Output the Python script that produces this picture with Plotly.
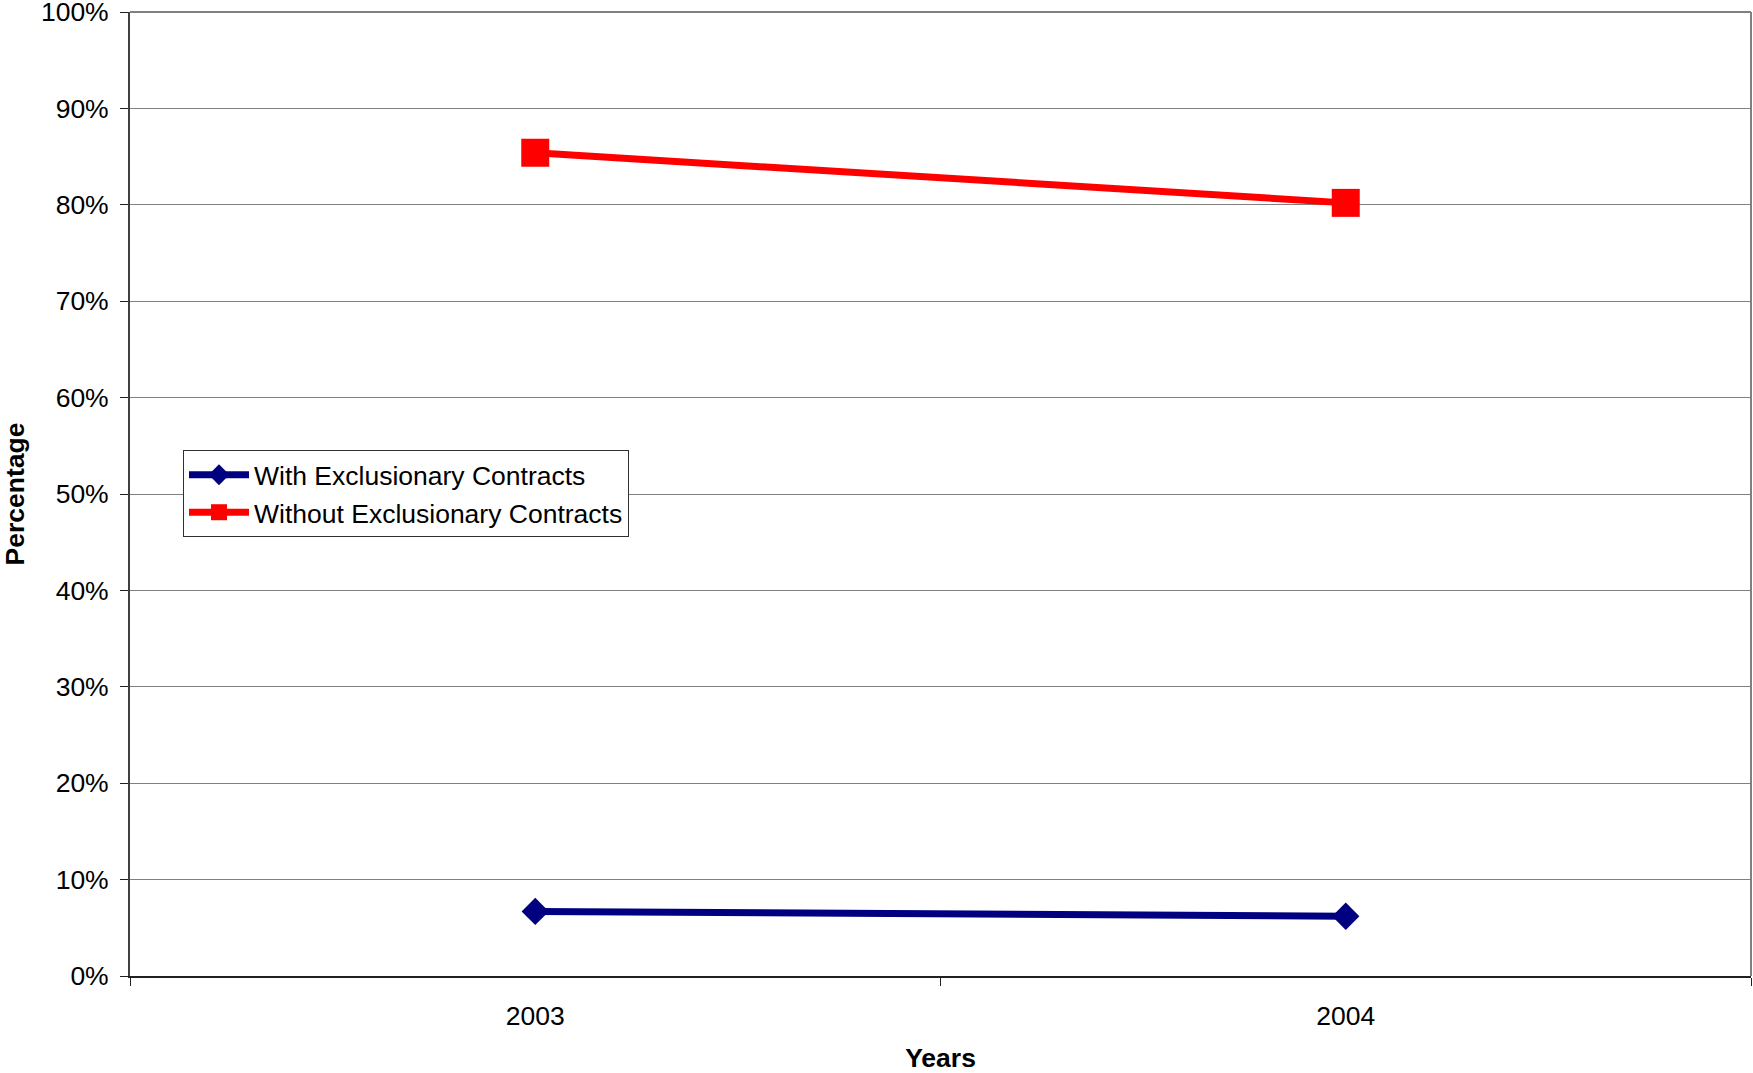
import plotly.graph_objects as go

years = ["2003", "2004"]
with_excl = [6.7, 6.2]
without_excl = [85.4, 80.2]
y_ticks = [0, 10, 20, 30, 40, 50, 60, 70, 80, 90, 100]
y_tick_labels = [f"{v}%" for v in y_ticks]

FONT = "Liberation Sans, Arial, sans-serif"
FS = 26.5

fig = go.Figure()
fig.add_trace(go.Scatter(
    x=years, y=with_excl, name="With Exclusionary Contracts",
    mode="lines+markers",
    line=dict(color="#000080", width=7),
    marker=dict(symbol="diamond", size=21, color="#000080"),
))
fig.add_trace(go.Scatter(
    x=years, y=without_excl, name="Without Exclusionary Contracts",
    mode="lines+markers",
    line=dict(color="#FF0000", width=7),
    marker=dict(symbol="square", size=28, color="#FF0000"),
))

fig.update_layout(
    width=1753, height=1073,
    margin=dict(l=130, r=2, t=12, b=97, autoexpand=False),
    paper_bgcolor="white", plot_bgcolor="white",
    font=dict(family=FONT, size=FS, color="black"),
    showlegend=True,
    legend=dict(
        x=0.0327, y=0.5456, xanchor="left", yanchor="top",
        bgcolor="white", bordercolor="#303030", borderwidth=1,
        font=dict(family=FONT, size=FS, color="black"),
        tracegroupgap=0, itemwidth=60,
    ),
    xaxis=dict(
        type="category", range=[-0.5, 1.5], automargin=False,
        showline=True, linecolor="#202020", linewidth=2,
        showgrid=False, zeroline=False,
        ticks="outside", tickson="boundaries", ticklen=8,
        tickcolor="#202020", tickwidth=1,
        ticklabelstandoff=15,
        title=dict(text="<b>Years</b>", font=dict(family=FONT, size=FS), standoff=26),
    ),
    yaxis=dict(
        range=[0, 100], automargin=False,
        tickmode="array", tickvals=y_ticks, ticktext=y_tick_labels,
        ticklabeloverflow="allow",
        showline=True, linecolor="#404040", linewidth=2,
        showgrid=True, gridcolor="#808080", gridwidth=1,
        zeroline=False,
        ticks="outside", ticklen=8, tickcolor="#202020", tickwidth=1,
        ticklabelstandoff=6,
        title=dict(text="<b>Percentage</b>", font=dict(family=FONT, size=FS), standoff=28),
    ),
    shapes=[
        dict(type="line", xref="paper", yref="paper", x0=1, x1=1, y0=0, y1=1,
             line=dict(color="#808080", width=2)),
        dict(type="line", xref="paper", yref="paper", x0=0, x1=1, y0=1, y1=1,
             line=dict(color="#808080", width=2)),
    ],
)

fig.write_html("out.html", config={"displayModeBar": False},
               post_script="document.body.style.margin='0';document.body.style.overflow='hidden';")
